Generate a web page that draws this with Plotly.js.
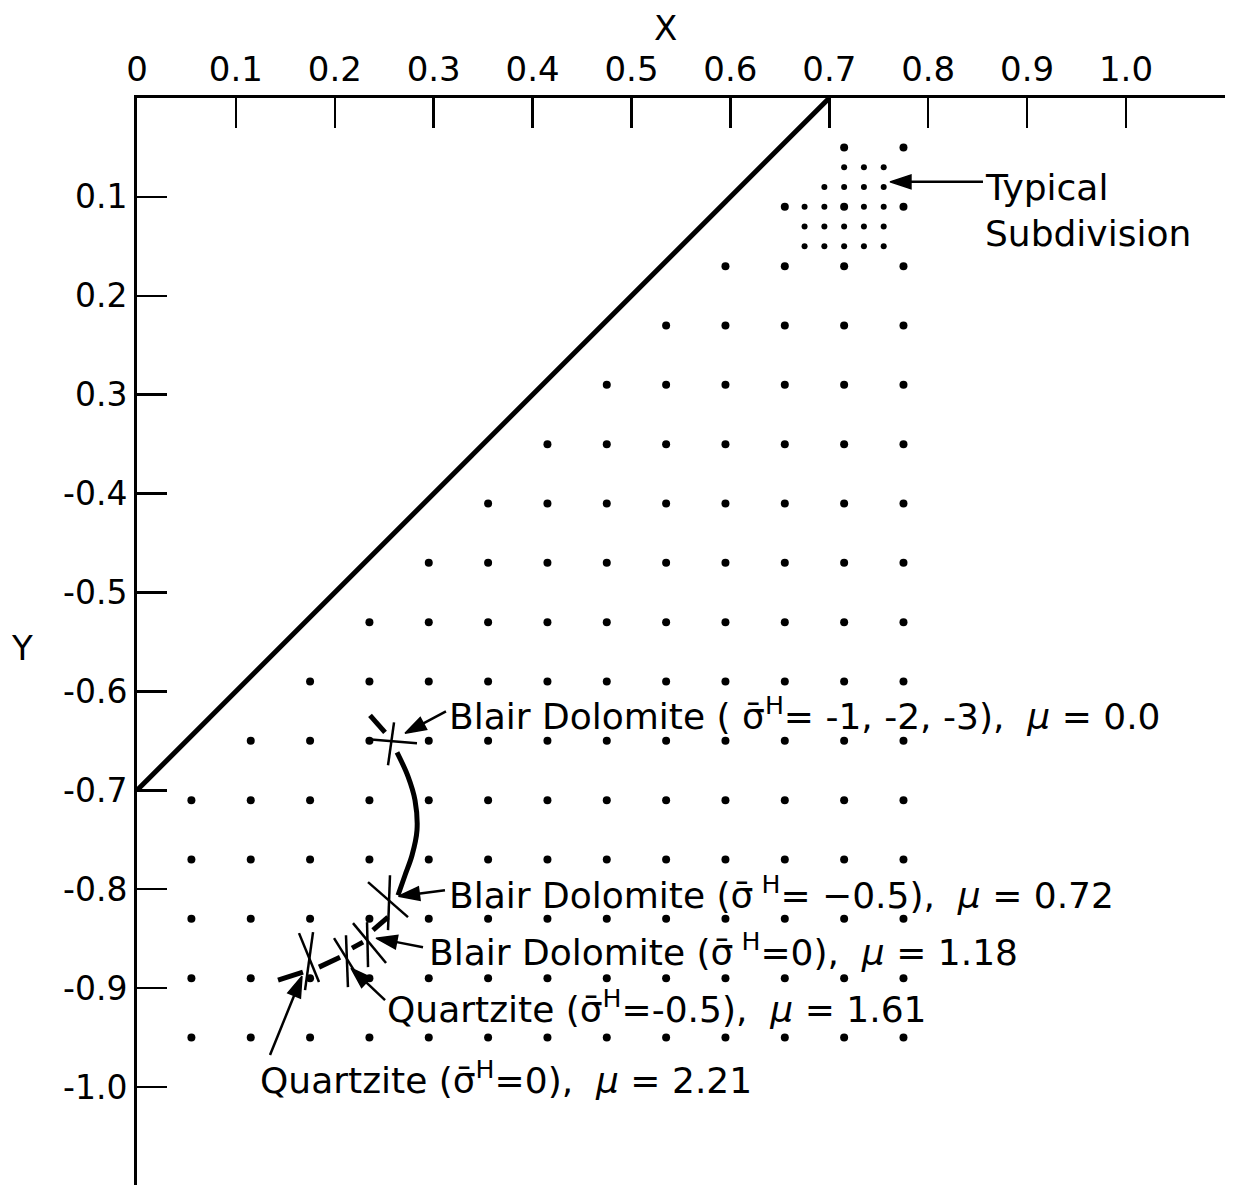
<!DOCTYPE html>
<html>
<head>
<meta charset="utf-8">
<script src="https://cdn.plot.ly/plotly-3.0.1.min.js"></script>
<style>
  html, body { margin: 0; padding: 0; background: #ffffff; }
  #chart { width: 1234px; height: 1185px; }
</style>
</head>
<body>
<div id="chart"></div>
<script>
// ---------- data ----------
const xTickVals = [0, 0.1, 0.2, 0.3, 0.4, 0.5, 0.6, 0.7, 0.8, 0.9, 1.0];
const xTickText = ['0', '0.1', '0.2', '0.3', '0.4', '0.5', '0.6', '0.7', '0.8', '0.9', '1.0'];
const yTickVals = [-0.1, -0.2, -0.3, -0.4, -0.5, -0.6, -0.7, -0.8, -0.9, -1.0];
const yTickText = ['0.1', '0.2', '0.3', '-0.4', '-0.5', '-0.6', '-0.7', '-0.8', '-0.9', '-1.0'];

// boundary line y = x - 0.7
const boundaryX = [0, 0.7];
const boundaryY = [-0.7, 0];

// main grid of points
const gridX = [0.055, 0.115, 0.175, 0.235, 0.295, 0.355, 0.415, 0.475, 0.535, 0.595, 0.655, 0.715, 0.775];
const gridY = [-0.05, -0.11, -0.17, -0.23, -0.29, -0.35, -0.41, -0.47, -0.53, -0.59, -0.65, -0.71, -0.77, -0.83, -0.89, -0.95];
// index of the first column present in each row
const rowStart = [11, 10, 9, 8, 7, 6, 5, 4, 3, 2, 1, 0, 0, 0, 0, 0];

// typical subdivision (finer points)
const subDotX = [0.715, 0.735, 0.755,
                 0.695, 0.715, 0.735, 0.755,
                 0.675, 0.695, 0.735, 0.755,
                 0.675, 0.695, 0.715, 0.735, 0.755,
                 0.675, 0.695, 0.715, 0.735, 0.755];
const subDotY = [-0.07, -0.07, -0.07,
                 -0.09, -0.09, -0.09, -0.09,
                 -0.11, -0.11, -0.11, -0.11,
                 -0.13, -0.13, -0.13, -0.13, -0.13,
                 -0.15, -0.15, -0.15, -0.15, -0.15];

// result markers (crossed strokes)
const crossX = [0.2336, 0.2831, null, 0.2599, 0.2538, null,
                0.2336, 0.2740, null, 0.2558, 0.2538, null,
                0.2326, 0.2336, null, 0.2184, 0.2518, null,
                0.1992, 0.2224, null, 0.2113, 0.2133, null,
                0.1638, 0.1840, null, 0.1780, 0.1699];
const crossY = [-0.6485, -0.6525, null, -0.6313, -0.6747, null,
                -0.7929, -0.8283, null, -0.7859, -0.8414, null,
                -0.8333, -0.8788, null, -0.8343, -0.8747, null,
                -0.8495, -0.8869, null, -0.8465, -0.8990, null,
                -0.8444, -0.8939, null, -0.8434, -0.9020];

// heavy curve joining the results
const curveX = [0.2629, 0.2740, 0.2811, 0.2831, 0.2781, 0.2710, 0.2639];
const curveY = [-0.6616, -0.6859, -0.7101, -0.7404, -0.7657, -0.7859, -0.8061];
const dashX = [0.2356, 0.2508, null, 0.2386, 0.2538, null, 0.2174, 0.2285, null, 0.1840, 0.2053, null, 0.1426, 0.1678];
const dashY = [-0.6242, -0.6414, null, -0.8414, -0.8283, null, -0.8596, -0.8535, null, -0.8788, -0.8687, null, -0.8919, -0.8838];

// labels
const labelText = [
  'Blair Dolomite (\u00a0σ\u0304<sup>H</sup>= -1, -2, -3),\u00a0\u00a0<i>μ</i> = 0.0',
  'Blair Dolomite (σ\u0304<sup>\u00a0H</sup>= −0.5),\u00a0\u00a0<i>μ</i> = 0.72',
  'Blair Dolomite (σ\u0304<sup>\u00a0H</sup>=0),\u00a0\u00a0<i>μ</i> = 1.18',
  'Quartzite (σ\u0304<sup>H</sup>=-0.5),\u00a0\u00a0<i>μ</i> = 1.61',
  'Quartzite (σ\u0304<sup>H</sup>=0),\u00a0\u00a0<i>μ</i> = 2.21',
  'Typical',
  'Subdivision'
];
const labelX = [0.3135, 0.3135, 0.2932, 0.2508, 0.1223, 0.8554, 0.8554];
const labelY = [-0.6232, -0.8040, -0.8616, -0.9192, -0.9909, -0.0909, -0.1374];

// arrows: tail -> head
const arrowTailX = [0.3124, 0.3114, 0.2892, 0.2508, 0.1345, 0.8554];
const arrowTailY = [-0.6202, -0.8010, -0.8586, -0.9121, -0.9677, -0.0848];
const arrowHeadX = [0.2710, 0.2644, 0.2417, 0.2164, 0.1668, 0.7614];
const arrowHeadY = [-0.6424, -0.8071, -0.8495, -0.8798, -0.8879, -0.0848];

// axis names (paper position)
const axisNameText = ['X', 'Y'];
const axisNameX = [0.4853, -0.1057];
const axisNameY = [1.0644, 0.494];

// ---------- build ----------
const dotX = [], dotY = [];
gridY.forEach((yv, r) => {
  for (let c = rowStart[r]; c < gridX.length; c++) { dotX.push(gridX[c]); dotY.push(yv); }
});

const arrX = [], arrY = [], arrSize = [];
arrowTailX.forEach((_, i) => {
  arrX.push(arrowTailX[i], arrowHeadX[i], null);
  arrY.push(arrowTailY[i], arrowHeadY[i], null);
  arrSize.push(0, 22, 0);
});

const FONT = 'DejaVu Sans, Liberation Sans, sans-serif';

const traces = [
  { x: boundaryX, y: boundaryY, mode: 'lines', line: { color: '#000', width: 5 }, cliponaxis: false, hoverinfo: 'skip' },
  { x: dotX, y: dotY, mode: 'markers', marker: { color: '#000', size: 8 }, hoverinfo: 'skip' },
  { x: subDotX, y: subDotY, mode: 'markers', marker: { color: '#000', size: 6 }, hoverinfo: 'skip' },
  { x: curveX, y: curveY, mode: 'lines', line: { color: '#000', width: 5, shape: 'spline' }, hoverinfo: 'skip' },
  { x: dashX, y: dashY, mode: 'lines', line: { color: '#000', width: 5 }, hoverinfo: 'skip' },
  { x: crossX, y: crossY, mode: 'lines', line: { color: '#000', width: 2.5 }, hoverinfo: 'skip' },
  { x: arrX, y: arrY, mode: 'lines+markers', line: { color: '#000', width: 2.5 },
    marker: { color: '#000', opacity: 1, size: arrSize, symbol: 'arrow', angleref: 'previous',
              line: { width: 1.5, color: '#000' } },
    hoverinfo: 'skip' }
];

const annotations = [];
labelText.forEach((t, i) => annotations.push({
  x: labelX[i], y: labelY[i], xref: 'x', yref: 'y', text: t, showarrow: false,
  xanchor: 'left', yanchor: 'middle', font: { family: FONT, size: 36, color: '#000' }
}));
axisNameText.forEach((t, i) => annotations.push({
  x: axisNameX[i], y: axisNameY[i], xref: 'paper', yref: 'paper', text: t, showarrow: false,
  xanchor: 'center', yanchor: 'middle', font: { family: FONT, size: 34, color: '#000' }
}));

const layout = {
  width: 1234, height: 1185,
  margin: { l: 137, r: 9, t: 98, b: 0 },
  paper_bgcolor: '#fff', plot_bgcolor: '#fff',
  showlegend: false,
  font: { family: FONT, color: '#000' },
  xaxis: {
    side: 'top', range: [0, 1.1001], showgrid: false, zeroline: false,
    showline: true, linecolor: '#000', linewidth: 3.5,
    ticks: 'inside', ticklen: 30, tickwidth: 2.5, tickcolor: '#000',
    tickvals: xTickVals, ticktext: xTickText,
    tickfont: { family: FONT, size: 34, color: '#000' }
  },
  yaxis: {
    range: [-1.0991, 0], showgrid: false, zeroline: false,
    showline: true, linecolor: '#000', linewidth: 3,
    ticks: 'inside', ticklen: 30, tickwidth: 2.5, tickcolor: '#000',
    tickvals: yTickVals, ticktext: yTickText,
    tickfont: { family: FONT, size: 33, color: '#000' }
  },
  annotations: annotations
};

Plotly.newPlot('chart', traces, layout, { staticPlot: true, displayModeBar: false });
</script>
</body>
</html>
